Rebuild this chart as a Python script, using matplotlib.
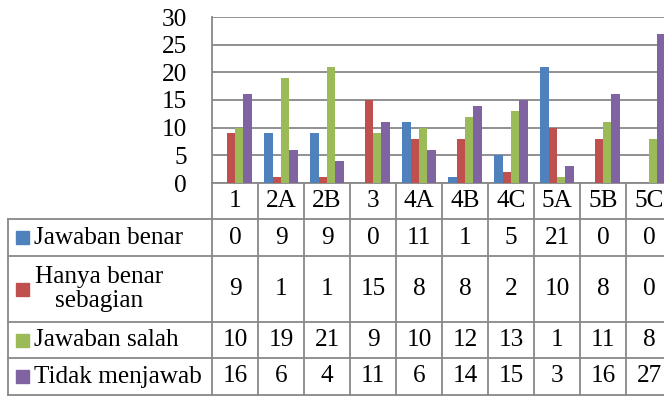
import matplotlib
matplotlib.use("Agg")
import matplotlib.pyplot as plt
import numpy as np
from matplotlib.transforms import blended_transform_factory
from matplotlib.patches import Rectangle

categories = ["1", "2A", "2B", "3", "4A", "4B", "4C", "5A", "5B", "5C"]
series_names = ["Jawaban benar", "Hanya benar\nsebagian", "Jawaban salah", "Tidak menjawab"]
jawaban_benar = [0, 9, 9, 0, 11, 1, 5, 21, 0, 0]
hanya_benar_sebagian = [9, 1, 1, 15, 8, 8, 2, 10, 8, 0]
jawaban_salah = [10, 19, 21, 9, 10, 12, 13, 1, 11, 8]
tidak_menjawab = [16, 6, 4, 11, 6, 14, 15, 3, 16, 27]
y_ticks = [0, 5, 10, 15, 20, 25, 30]

series = [jawaban_benar, hanya_benar_sebagian, jawaban_salah, tidak_menjawab]
colors = ["#4F81BD", "#C0504D", "#9BBB59", "#8064A2"]
grid_col = "#888888"
font = "Liberation Serif"
fs = 18.2

W, H = 664, 396
fig = plt.figure(figsize=(W / 100, H / 100), dpi=100)

# plot area in pixel units (from top-left)
px_left, px_right, px_top, px_bottom = 212, 672, 17, 183
ax = fig.add_axes([px_left / W, (H - px_bottom) / H,
                   (px_right - px_left) / W, (px_bottom - px_top) / H])

x = np.arange(len(categories))
bw = 0.18
for i, (vals, c) in enumerate(zip(series, colors)):
    ax.bar(x + (i - 1.5) * bw, vals, width=bw, color=c, zorder=3)

ax.set_xlim(-0.5, len(categories) - 0.5)
ax.set_ylim(0, 30)
ax.set_yticks(y_ticks)
ax.set_yticklabels([str(v) for v in y_ticks], fontfamily=font, fontsize=fs)
ax.tick_params(axis="y", length=0, pad=18)
ax.set_xticks([])
ax.grid(axis="y", color=grid_col, linewidth=1.3, zorder=0)
for s in ["top", "right"]:
    ax.spines[s].set_visible(False)
for s in ["left", "bottom"]:
    ax.spines[s].set_color(grid_col)
    ax.spines[s].set_linewidth(1.3)

# data table beneath the axis
tr = blended_transform_factory(ax.transData, fig.transFigure)
fy = lambda p: (H - p) / H
fx = lambda p: p / W

header_bot = 219
row_edges = [219, 256, 322, 358, 395]
table_left = 8

line_kw = dict(color=grid_col, linewidth=1.3, clip_on=False)
# vertical category separators
for b in np.arange(-0.5, len(categories), 1.0):
    ax.plot([b, b], [fy(px_bottom), fy(row_edges[-1])], transform=tr, **line_kw)
# horizontal row lines
for r in row_edges:
    fig.add_artist(plt.Line2D([fx(table_left), 1.02], [fy(r), fy(r)], **line_kw))
# left border of label column
fig.add_artist(plt.Line2D([fx(table_left), fx(table_left)],
                          [fy(row_edges[0]), fy(row_edges[-1])], **line_kw))

# category header
for xi, cat in zip(x, categories):
    ax.text(xi, fy((px_bottom + header_bot) / 2), cat, transform=tr,
            ha="center", va="center", fontfamily=font, fontsize=fs, clip_on=False)

# rows: legend key, label, values
for i, (name, vals, c) in enumerate(zip(series_names, series, colors)):
    yc = fy((row_edges[i] + row_edges[i + 1]) / 2)
    key_h = 13
    fig.add_artist(Rectangle((fx(16), yc - key_h / 2 / H), 13 / W, key_h / H,
                             transform=fig.transFigure, color=c))
    if "\n" in name:
        fig.text(fx(99), yc, name, ha="center", va="center", multialignment="center",
                 fontfamily=font, fontsize=fs, linespacing=1.1)
    else:
        fig.text(fx(34), yc, name, ha="left", va="center",
                 fontfamily=font, fontsize=fs)
    for xi, v in zip(x, vals):
        ax.text(xi, yc, str(v), transform=tr, ha="center", va="center",
                fontfamily=font, fontsize=fs, clip_on=False)

fig.savefig("out.png", dpi=100)
